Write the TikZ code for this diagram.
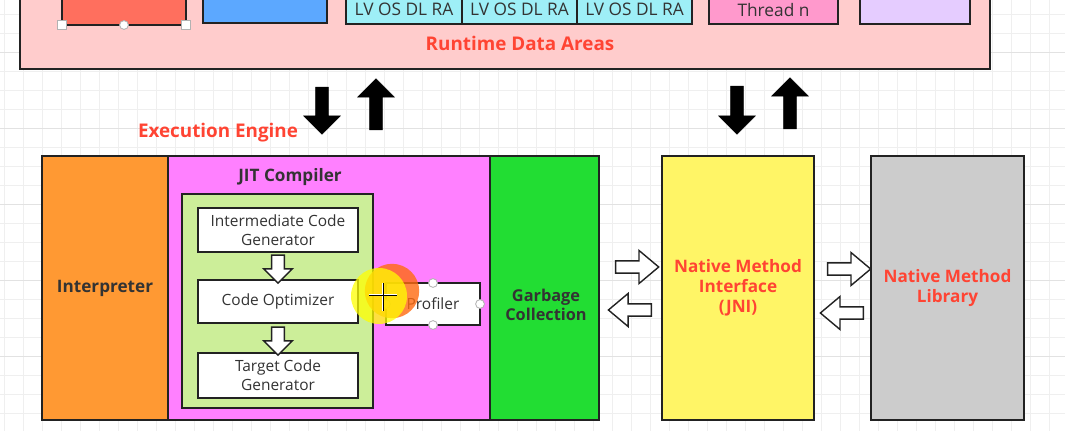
\documentclass[tikz,border=0pt]{standalone}
\usepackage{fontspec}
\setmainfont{Open Sans}
\usetikzlibrary{shapes.arrows,positioning,calc}

\definecolor{edge}{HTML}{222222}
\definecolor{ink}{HTML}{333333}
\definecolor{redlabel}{HTML}{FF4433}
\definecolor{gridminor}{HTML}{EFEFEF}
\definecolor{gridmajor}{HTML}{E2E2E2}
\definecolor{rdapink}{HTML}{FFCCCC}
\definecolor{heapred}{HTML}{FF6F5E}
\definecolor{methodblue}{HTML}{5CA8FF}
\definecolor{stackcyan}{HTML}{9EEFF7}
\definecolor{pcpink}{HTML}{FF99CC}
\definecolor{nativelilac}{HTML}{E5CCFF}
\definecolor{interporange}{HTML}{FF9933}
\definecolor{jitmagenta}{HTML}{FF80FF}
\definecolor{jitgreen}{HTML}{CCEE99}
\definecolor{gcgreen}{HTML}{22DD33}
\definecolor{jniyellow}{HTML}{FFF566}
\definecolor{libgrey}{HTML}{CCCCCC}
\definecolor{cursororange}{HTML}{FF6A10}
\definecolor{cursoryellow}{HTML}{FFFF00}

\newcommand{\txtplain}{\fontsize{11}{13.5}\selectfont}
\newcommand{\txtstack}{\fontsize{12.3}{14}\selectfont}
\newcommand{\txtbold}{\bfseries\fontsize{12.2}{14.2}\selectfont}
\newcommand{\txttitle}{\bfseries\fontsize{13.4}{16}\selectfont}

\tikzstyle{block} = [rectangle, draw=edge, line width=1.3pt, inner sep=0pt, outer sep=0pt, text=ink, align=center, font=\txtplain]
\tikzstyle{column} = [block, minimum height=6.6cm, font=\txtbold]
\tikzstyle{stack} = [block, fill=stackcyan, minimum height=0.75cm, font=\txtstack]
\tikzstyle{blackarrow} = [single arrow, draw=black, fill=black, inner xsep=0pt, inner ysep=0.15cm, single arrow head extend=0.3cm]
\tikzstyle{hollowarrow} = [single arrow, draw=edge, fill=white, line width=1pt, inner xsep=0pt, inner ysep=0.135cm, single arrow head extend=0.26cm, single arrow tip angle=80, minimum height=1.075cm]
\tikzstyle{downarrow} = [hollowarrow, rotate=-90, inner ysep=0.14cm, single arrow head extend=0.2cm, single arrow tip angle=90, minimum height=0.7cm]
\tikzstyle{handle} = [circle, draw=gray!60, fill=white, line width=0.6pt, inner sep=0pt, minimum size=0.22cm]
\tikzstyle{gridline} = [draw=gridminor, line width=0.7pt]

\begin{document}
\begin{tikzpicture}[x=0.025cm, y=-0.025cm]
    \useasboundingbox (0,0) rectangle (1065,431);
    \clip (0,0) rectangle (1065,431);

    % background grid
    \foreach \gx in {4,23,...,1065} \draw[gridline] (\gx,0) -- (\gx,431);
    \foreach \gy in {14,33,...,431} \draw[gridline] (0,\gy) -- (1065,\gy);
    \foreach \gy in {52,128,...,431} \draw[gridline, draw=gridmajor] (0,\gy) -- (1065,\gy);

    % runtime data areas (cut off at the top)
    \node[block, fill=rdapink, minimum width=24.25cm, minimum height=3.225cm] (rda) at (505,4.5) {};
    \node[font=\txttitle, text=redlabel] (rdalabel) at (520,43) {Runtime Data Areas};
    \node[block, fill=heapred, minimum width=3.1cm, minimum height=1.375cm] (heap) at (124,-2.5) {};
    \node[block, fill=methodblue, minimum width=3.1cm, minimum height=1.325cm] (method) at (265,-3.5) {};
    \node[stack, minimum width=2.9cm] (stack1) at (404,9) {LV OS DL RA};
    \node[stack, minimum width=2.875cm, right=0pt of stack1] (stack2) {LV OS DL RA};
    \node[stack, minimum width=2.875cm, right=0pt of stack2] (stack3) {LV OS DL RA};
    \node[block, fill=pcpink, minimum width=3.225cm, minimum height=0.7cm, font=\txtstack] (pc) at (773.5,10) {Thread n};
    \node[block, fill=nativelilac, minimum width=2.75cm, minimum height=1.35cm] (nativestack) at (915,-3) {};
    \node[handle, rectangle] (heapsw) at (heap.south west) {};
    \node[handle] (heaps) at (heap.south) {};
    \node[handle, rectangle] (heapse) at (heap.south east) {};

    % execution engine
    \node[font=\txttitle, text=redlabel] (eelabel) at (218,133) {Execution Engine};
    \node[column, fill=interporange, minimum width=3.15cm] (interp) at (105,288) {Interpreter};
    \node[column, fill=jitmagenta, minimum width=8.05cm, right=0pt of interp] (jit) {};
    \node[column, fill=gcgreen, minimum width=2.725cm, right=0pt of jit] (gc) {};
    \node[font=\bfseries\fontsize{11.6}{14}\selectfont, text=ink, align=center] (gclabel) at (546,305) {Garbage\\Collection};
    \node[font=\txtbold, text=ink] (jitlabel) at (290,177) {JIT Compiler};
    \node[block, fill=jitgreen, minimum width=4.775cm, minimum height=5.35cm] (jitcore) at (277.5,301) {};
    \node[block, fill=white, minimum width=4cm, minimum height=1.1cm] (icg) at (278,230) {Intermediate Code\\Generator};
    \node[block, fill=white, minimum width=4cm, minimum height=1.075cm, below=0.7cm of icg] (optimizer) {Code Optimizer};
    \node[block, fill=white, minimum width=4cm, minimum height=1.125cm, below=0.75cm of optimizer] (tcg) {Target Code\\Generator};
    \node[downarrow] (icg2opt) at ($(icg.south)!0.5!(optimizer.north)$) {};
    \node[downarrow] (opt2tcg) at ($(optimizer.south)!0.5!(tcg.north)$) {};
    \node[block, fill=white, minimum width=2.35cm, minimum height=1.05cm] (profiler) at (433,304) {Profiler};
    \node[handle] (profn) at (profiler.north) {};
    \node[handle] (profs) at (profiler.south) {};
    \node[handle] (profe) at (profiler.east) {};
    \node[handle] (profw) at (profiler.west) {};

    % native side
    \node[column, fill=jniyellow, minimum width=3.8cm, text=redlabel] (jni) at (738,288) {Native Method\\Interface\\(JNI)};
    \node[column, fill=libgrey, minimum width=3.825cm, text=redlabel] (lib) at (947.5,288) {Native Method\\Library};

    % arrows
    \node[blackarrow, rotate=-90, minimum height=1.175cm] (rda2ee) at (322,107.5) {};
    \node[blackarrow, rotate=90, minimum height=1.275cm] (ee2rda) at (376,107.5) {};
    \node[blackarrow, rotate=-90, minimum height=1.2cm] (rda2jni) at (737,107) {};
    \node[blackarrow, rotate=90, minimum height=1.275cm] (jni2rda) at (790,106.5) {};
    \node[hollowarrow] (gc2jni) at ($(gc.east)!0.5!(jni.west)+(3,-21)$) {};
    \node[hollowarrow, rotate=180] (jni2gc) at ($(gc.east)!0.5!(jni.west)+(3,22)$) {};
    \node[hollowarrow] (jni2lib) at ($(jni.east)!0.5!(lib.west)+(3,-19)$) {};
    \node[hollowarrow, rotate=180] (lib2jni) at ($(jni.east)!0.5!(lib.west)+(3,25)$) {};

    % pointer highlight
    \fill[cursororange, opacity=0.8] (392,291) circle [radius=0.68cm];
    \fill[cursoryellow, opacity=0.75] (379,296) circle [radius=0.7cm];
    \draw[white, line width=1.6pt] (383,283) -- (383,311) (369,295) -- (397,295);
    \draw[black, line width=0.6pt] (383,283) -- (383,311) (369,295) -- (397,295);
\end{tikzpicture}
\end{document}
